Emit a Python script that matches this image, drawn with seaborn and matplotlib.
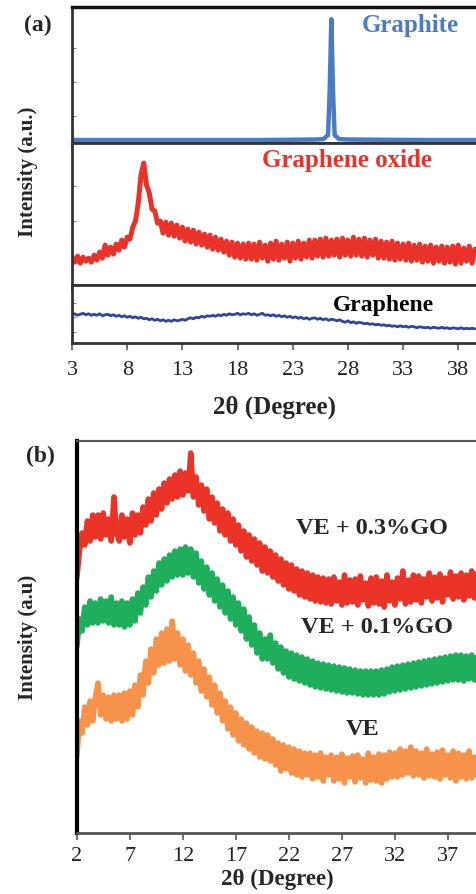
import numpy as np
import pandas as pd
import matplotlib
matplotlib.use('Agg')
import matplotlib.pyplot as plt
import seaborn as sns

# ---- panel (a) data (a.u.) ----
two_theta_a = np.arange(3, 39.51, 0.25)

graphite_x = [3, 10, 20, 25, 25.8, 26.2, 26.35, 26.5, 26.65, 26.8, 27.2, 28, 35, 39.6]
graphite_y = [3, 3, 3, 3.5, 4, 8, 52, 124, 52, 8, 4, 3.5, 3, 3]

graphene_oxide = [
    28, 23, 29, 22, 28, 24, 27, 23,
    30, 25, 33, 27, 40, 30, 38, 31,
    41, 35, 45, 38, 48, 46, 58, 64,
    82, 110, 122, 100, 92, 76, 74, 62,
    64, 52, 63, 50, 62, 49, 60, 47,
    58, 44, 56, 43, 55, 41, 53, 40,
    51, 38, 50, 36, 48, 35, 46, 33,
    44, 30, 43, 28, 42, 27, 41, 26,
    42, 26, 41, 25, 43, 27, 40, 24,
    42, 26, 44, 25, 41, 27, 43, 24,
    42, 27, 44, 26, 42, 28, 45, 27,
    45, 29, 46, 28, 47, 29, 45, 30,
    46, 28, 47, 30, 45, 29, 48, 30,
    46, 29, 47, 28, 45, 30, 46, 27,
    44, 27, 43, 26, 44, 25, 42, 26,
    41, 25, 42, 24, 40, 25, 41, 23,
    39, 24, 40, 22, 38, 24, 39, 22,
    38, 23, 39, 21, 40, 22, 37, 24,
    39, 22, 36,
]

graphene = [
    28.5, 29.5, 28, 29, 30, 28.5, 29.5, 28,
    29, 28, 29.5, 27.5, 28.5, 29, 27.5, 28.5,
    27, 28, 26.5, 27.5, 26, 27, 25.5, 26.5,
    25, 26, 24.5, 25, 23.5, 24.5, 23, 24,
    22.5, 23.5, 22, 23, 22, 23.5, 22.5, 23,
    24, 23, 24.5, 25.5, 24.5, 26, 25.5, 27,
    26, 27.5, 27, 28, 27, 28.5, 27.5, 29,
    28, 29.5, 28.5, 29, 30, 28.5, 29.5, 29,
    30, 28.5, 29.5, 28, 29, 30, 28, 28.5,
    27.5, 28.5, 27, 28, 26.5, 27.5, 26, 27,
    25.5, 26.5, 25, 26, 24.5, 25.5, 24, 25,
    25.5, 24, 25, 23.5, 24.5, 23, 24, 23.5,
    22.5, 23.5, 22, 21, 22.5, 20.5, 21.5, 20,
    21, 20.5, 19.5, 20, 19, 19.5, 18.5, 19,
    18, 18.5, 17.5, 18, 17, 17.5, 16.5, 17.5,
    16.5, 17, 16, 17, 16.5, 15.5, 16.5, 16,
    15.5, 16, 15, 16, 15.5, 15, 16, 15,
    15.5, 14.5, 15.5, 15, 14.5, 15.5, 14.5, 15,
    14.5, 15, 14.5,
]

ticks_a = [3, 8, 13, 18, 23, 28, 33, 38]

# ---- panel (b) data ----
two_theta_b = np.arange(2, 39.76, 0.25)

ve_03go = [
    255, 282, 300, 288, 312, 292, 318, 296,
    318, 294, 320, 298, 314, 292, 336, 300,
    292, 318, 296, 314, 290, 320, 298, 318,
    300, 326, 308, 334, 312, 340, 318, 344,
    324, 350, 330, 354, 334, 358, 336, 362,
    338, 360, 342, 380, 336, 356, 328, 348,
    322, 344, 314, 336, 310, 330, 302, 324,
    298, 320, 292, 314, 288, 308, 282, 302,
    276, 298, 272, 294, 268, 290, 262, 286,
    260, 282, 256, 278, 252, 274, 248, 270,
    244, 268, 242, 264, 238, 262, 236, 260,
    234, 258, 232, 256, 231, 255, 230, 254,
    229, 256, 232, 251, 228, 258, 230, 253,
    231, 254, 228, 257, 233, 250, 227, 255,
    230, 256, 229, 252, 226, 258, 232, 251,
    228, 255, 234, 262, 229, 253, 231, 258,
    233, 257, 230, 254, 236, 260, 232, 256,
    235, 259, 231, 255, 238, 261, 234, 257,
    236, 260, 233, 258, 237, 262, 235, 259,
]

ve_01go = [
    186, 214, 202, 226, 208, 232, 210, 230,
    210, 234, 212, 232, 210, 236, 208, 230,
    208, 232, 206, 230, 208, 234, 212, 240,
    220, 246, 228, 256, 236, 262, 242, 270,
    248, 274, 252, 278, 256, 282, 258, 284,
    258, 286, 260, 284, 256, 280, 250, 272,
    244, 266, 238, 260, 232, 254, 226, 248,
    220, 242, 214, 236, 208, 230, 202, 224,
    194, 216, 188, 208, 180, 200, 174, 194,
    174, 198, 170, 190, 164, 186, 160, 182,
    156, 180, 154, 178, 152, 176, 150, 174,
    148, 172, 146, 170, 145, 169, 144, 168,
    143, 167, 142, 166, 141, 165, 140, 164,
    140, 163, 139, 162, 138, 162, 138, 162,
    138, 162, 138, 163, 139, 164, 141, 166,
    142, 167, 143, 168, 144, 169, 145, 170,
    146, 171, 147, 172, 148, 173, 149, 174,
    150, 175, 151, 176, 152, 177, 153, 178,
    153, 178, 152, 177, 154, 178, 153, 176,
]

ve = [
    76, 112, 100, 126, 108, 132, 112, 136,
    150, 118, 138, 114, 136, 112, 138, 114,
    138, 112, 140, 114, 142, 118, 148, 126,
    158, 138, 172, 150, 184, 160, 194, 168,
    200, 170, 204, 172, 212, 174, 200, 168,
    194, 162, 188, 158, 180, 150, 172, 142,
    164, 136, 156, 128, 148, 120, 140, 112,
    132, 104, 126, 98, 120, 92, 114, 88,
    110, 84, 106, 80, 102, 76, 100, 74,
    98, 72, 94, 68, 90, 62, 88, 64,
    86, 60, 84, 58, 82, 56, 80, 58,
    80, 54, 78, 56, 80, 52, 76, 58,
    78, 52, 76, 54, 79, 50, 75, 56,
    77, 51, 78, 55, 74, 50, 80, 53,
    76, 52, 79, 50, 78, 54, 81, 56,
    80, 56, 84, 58, 82, 60, 86, 57,
    82, 58, 80, 55, 84, 57, 79, 56,
    81, 54, 83, 58, 78, 55, 82, 52,
    80, 56, 78, 54, 82, 55, 76, 58,
]

ticks_b = [2, 7, 12, 17, 22, 27, 32, 37]

sns.set_style('ticks')
plt.rcParams['font.family'] = ['Liberation Serif', 'DejaVu Serif']

fig = plt.figure(figsize=(4.77, 8.94), dpi=100)

ax1 = fig.add_axes([0.151, 0.840, 0.849, 0.152])
ax2 = fig.add_axes([0.151, 0.681, 0.849, 0.159], sharex=ax1)
ax3 = fig.add_axes([0.151, 0.616, 0.849, 0.0649], sharex=ax1)
axb = fig.add_axes([0.161, 0.0682, 0.839, 0.4385])

sns.lineplot(x=graphite_x, y=graphite_y, ax=ax1, color='#4a7cc6', linewidth=3.2,
             estimator=None, sort=False)
sns.lineplot(x=two_theta_a, y=graphene_oxide, ax=ax2, color='#e8322a', linewidth=3.6,
             estimator=None)
sns.lineplot(x=two_theta_a, y=graphene, ax=ax3, color='#2e44a2', linewidth=2.0,
             estimator=None)

ax1.set_ylim(0, 136)
ax2.set_ylim(0, 142)
ax3.set_ylim(0, 58)
ax1.set_xlim(3, 39.7)

for ax in (ax1, ax2, ax3):
    ax.set_ylabel('')
    ax.set_yticks(ax.get_ylim()[1] * np.array([0.2, 0.45, 0.7]))
    ax.tick_params(axis='y', direction='in', length=3, color='#888888', labelleft=False)
    ax.tick_params(axis='x', direction='out', length=5, width=1.5, color='#777777')
    ax.spines['right'].set_visible(False)
    for s in ('left', 'bottom', 'top'):
        ax.spines[s].set_linewidth(2)
        ax.spines[s].set_color('#333333')
ax1.spines['top'].set_color('#111111')
ax1.spines['top'].set_linewidth(2.5)
ax1.set_xticks(ticks_a)
ax1.tick_params(axis='x', labelbottom=False)
ax2.tick_params(axis='x', labelbottom=False)
ax3.tick_params(axis='x', labelsize=16, pad=8, labelcolor='#222222')
ax3.set_xlabel('2θ (Degree)', fontsize=18, fontweight='bold', labelpad=11)

ax1.text(0.835, 0.865, 'Graphite', transform=ax1.transAxes, ha='center', va='center',
         fontsize=18, fontweight='bold', color='#4a7cc6')
ax2.text(0.68, 0.88, 'Graphene oxide', transform=ax2.transAxes, ha='center', va='center',
         fontsize=18, fontweight='bold', color='#e8322a')
ax3.text(0.768, 0.655, 'Graphene', transform=ax3.transAxes, ha='center', va='center',
         fontsize=17, fontweight='bold', color='black')

# panel (b)
sns.lineplot(x=two_theta_b, y=ve_03go, ax=axb, color='#ec3328', linewidth=4, estimator=None)
sns.lineplot(x=two_theta_b, y=ve_01go, ax=axb, color='#1fae5b', linewidth=4, estimator=None)
sns.lineplot(x=two_theta_b, y=ve, ax=axb, color='#f7924a', linewidth=4, estimator=None)
axb.set_xlim(2, 39.75)
axb.set_ylim(0, 392)
axb.set_xticks(ticks_b)
axb.set_yticks([])
axb.set_ylabel('')
axb.tick_params(axis='x', direction='out', length=5, width=1.5, color='#777777',
                labelsize=16, pad=5, labelcolor='#222222')
axb.spines['right'].set_visible(False)
axb.spines['left'].set_linewidth(3)
axb.spines['left'].set_color('black')
axb.spines['bottom'].set_linewidth(2)
axb.spines['bottom'].set_color('#555555')
axb.spines['top'].set_linewidth(1.5)
axb.spines['top'].set_color('#555555')
axb.set_xlabel('2θ (Degree)', fontsize=16.5, fontweight='bold', labelpad=2)

axb.text(0.7375, 0.778, 'VE + 0.3%GO', transform=axb.transAxes, ha='center', va='center',
         fontsize=17.5, fontweight='bold')
axb.text(0.75, 0.525, 'VE + 0.1%GO', transform=axb.transAxes, ha='center', va='center',
         fontsize=17.5, fontweight='bold')
axb.text(0.715, 0.263, 'VE', transform=axb.transAxes, ha='center', va='center',
         fontsize=17.5, fontweight='bold')

fig.text(0.08, 0.972, '(a)', ha='center', va='center', fontsize=17, fontweight='bold')
fig.text(0.084, 0.489, '(b)', ha='center', va='center', fontsize=17, fontweight='bold')
fig.text(0.059, 0.808, 'Intensity (a.u.)', rotation=90, ha='center', va='center',
         fontsize=15, fontweight='bold')
fig.text(0.059, 0.287, 'Intensity (a.u)', rotation=90, ha='center', va='center',
         fontsize=15, fontweight='bold')

fig.savefig('out.png', dpi=100)
